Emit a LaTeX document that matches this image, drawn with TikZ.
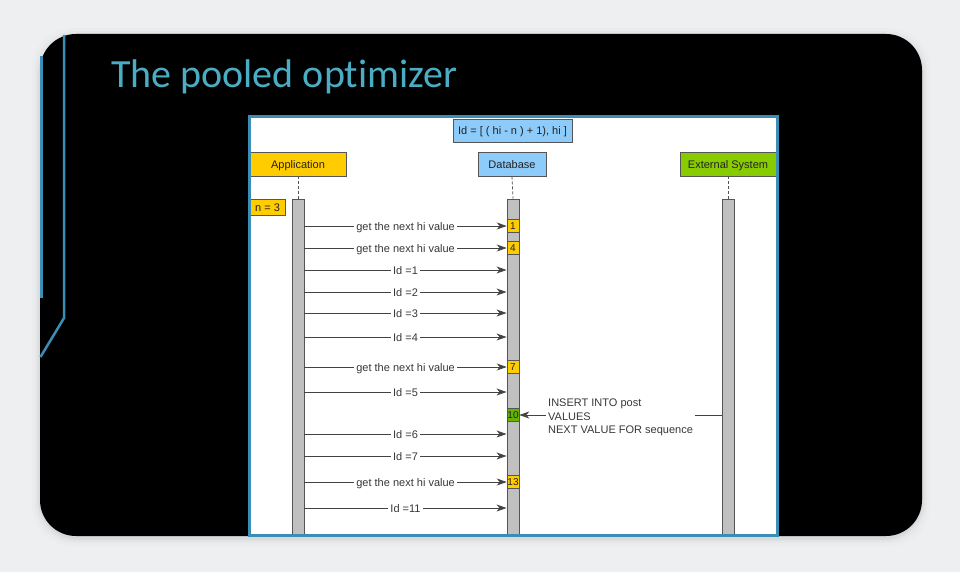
\documentclass[tikz,border=0pt]{standalone}
\usepackage{fontspec}
\setmainfont{Liberation Sans}
\newfontfamily\titlefont[Ligatures=NoCommon]{Carlito}
\usetikzlibrary{arrows.meta}
\definecolor{bgc}{HTML}{EEEFF1}
\definecolor{teal}{HTML}{4BADC4}
\definecolor{lineblue}{HTML}{3A8DB5}
\definecolor{appyel}{HTML}{FFCC00}
\definecolor{dbblue}{HTML}{8CCBFA}
\definecolor{extgreen}{HTML}{88CC00}
\definecolor{tengreen}{HTML}{66B300}
\definecolor{bargray}{HTML}{C0C0C0}
\definecolor{edge}{HTML}{555555}
\definecolor{txt}{HTML}{222222}
\tikzset{
  lbox/.style={draw=edge, line width=0.9pt, inner sep=0pt, minimum height=24pt,
    font=\fontsize{11}{13}\selectfont, text=txt, text height=9pt, text depth=0pt},
  actbar/.style={draw=edge, line width=0.9pt, fill=bargray, minimum width=12pt,
    inner sep=0pt},
  numbox/.style={draw=edge, line width=0.6pt, fill=appyel, minimum width=12pt,
    minimum height=13pt, inner sep=0pt, font=\fontsize{10}{10}\selectfont, text=txt},
  lifeline/.style={draw=edge, line width=0.8pt, dash pattern=on 3pt off 2pt},
  msg/.style={draw=txt!85, line width=0.8pt, -{Stealth[length=10pt,width=7pt,inset=3pt]}},
  mlabel/.style={fill=white, inner sep=2pt, font=\fontsize{11}{13}\selectfont, text=txt!90,
    text height=8pt, text depth=0pt},
}
\begin{document}
\begin{tikzpicture}[x=1pt,y=-1pt]
\useasboundingbox (0,0) rectangle (960,572);
\fill[bgc] (0,0) rectangle (960,572);
% soft shadow
\foreach \d/\o in {8/0.012,5/0.018,3/0.025,1.5/0.035}{
  \fill[black,opacity=\o,rounded corners=40pt] (40-\d,34-\d+2) rectangle (922+\d,536+\d+2);
}
% black card
\fill[black,rounded corners=36pt] (40,34) rectangle (922,536);
% decorative blue lines
\draw[lineblue,line width=2.5pt] (41.5,56) -- (41.5,298);
\draw[lineblue,line width=2.5pt] (64,35) -- (64,318) -- (40.5,357);
% title
\node[anchor=base west, inner sep=0pt, text=teal, font=\titlefont\fontsize{40}{48}\selectfont] (title) at (111,88) {The pooled optimizer};
% panel
\fill[white] (249,117) rectangle (777,535);
% formula box
\node[lbox, fill=dbblue, minimum width=119pt, minimum height=23pt] (formula) at (512.5,130.5) {Id = [ ( hi - n ) + 1), hi ]};
% participants
\node[lbox, fill=appyel, minimum width=96pt] (app) at (298,164) {Application};
\node[lbox, fill=dbblue, minimum width=68pt] (db) at (512,164) {Database};
\node[lbox, fill=extgreen, minimum width=96pt] (ext) at (728,164) {External System};
% activation bars
\node[actbar, minimum height=336pt] (appbar) at (298,367) {};
\node[actbar, minimum height=336pt] (dbbar) at (513,367) {};
\node[actbar, minimum height=336pt] (extbar) at (728.5,367) {};
% lifelines
\draw[lifeline] (app.south) -- (appbar.north);
\draw[lifeline] (db.south) -- (dbbar.north);
\draw[lifeline] (ext.south -| extbar.north) -- (extbar.north);
% n = 3
\node[lbox, fill=appyel, minimum width=35pt, minimum height=16pt] (nbox) at (267.5,207) {n = 3};
% number boxes on the database bar
\node[numbox] (b1) at (513,226) {1};
\node[numbox] (b4) at (513,248) {4};
\node[numbox] (b7) at (513,367) {7};
\node[numbox, fill=tengreen] (b10) at (513,415) {10};
\node[numbox] (b13) at (513,482) {13};
% messages
\draw[msg] (appbar.east |- b1.west) -- (b1.west) node[midway, mlabel] {get the next hi value};
\draw[msg] (appbar.east |- b4.west) -- (b4.west) node[midway, mlabel] {get the next hi value};
\foreach \yy/\tt in {270/{Id =1}, 292/{Id =2}, 313/{Id =3}, 337/{Id =4}, 392/{Id =5}, 434/{Id =6}, 456/{Id =7}, 508/{Id =11}}{
  \draw[msg] (appbar.east |- 0,\yy) -- (dbbar.west |- 0,\yy) node[midway, mlabel] {\tt};
}
\draw[msg] (appbar.east |- b7.west) -- (b7.west) node[midway, mlabel] {get the next hi value};
\draw[msg] (appbar.east |- b13.west) -- (b13.west) node[midway, mlabel] {get the next hi value};
% external system insert
\draw[msg] (extbar.west |- b10.east) -- (b10.east);
\node[fill=white, inner sep=2pt, text=txt!90, anchor=west, align=left, font=\fontsize{11}{13.5}\selectfont] (insert) at (546,417.5) {INSERT INTO post\\VALUES\\NEXT VALUE FOR sequence};
% panel border
\draw[lineblue,line width=3pt] (249,117) rectangle (777,535);
\end{tikzpicture}
\end{document}
